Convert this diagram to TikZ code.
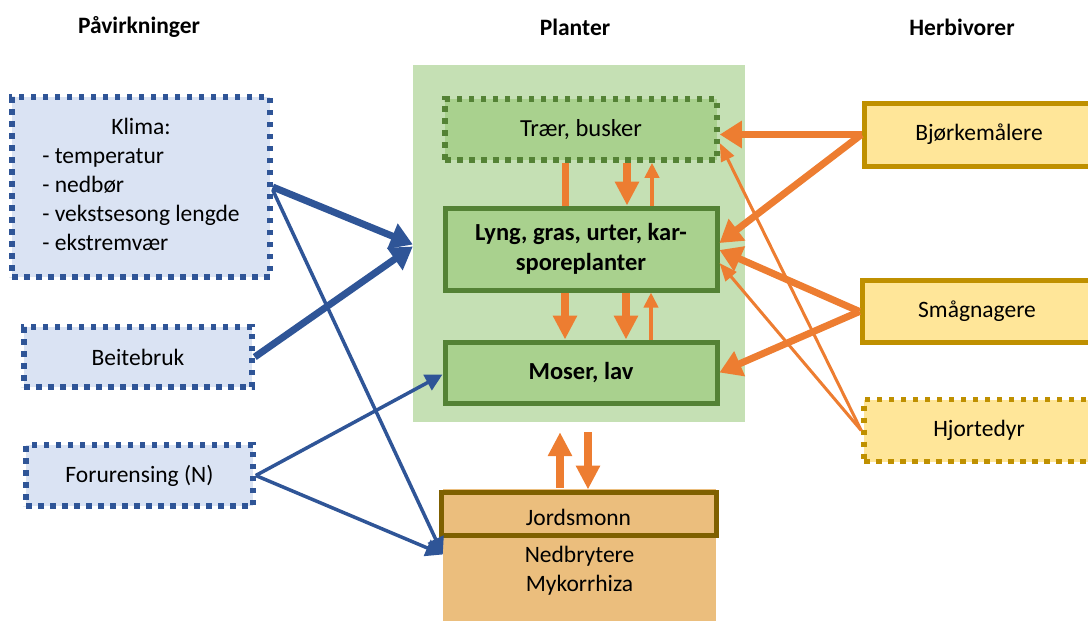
\documentclass[tikz,border=0pt]{standalone}
\usepackage{fontspec}
\setmainfont{Carlito}
\usetikzlibrary{arrows.meta,calc}

\definecolor{srcFill}{HTML}{DAE3F3}
\definecolor{srcLine}{HTML}{2F5597}
\definecolor{plantBg}{HTML}{C5E0B4}
\definecolor{plantFill}{HTML}{A9D18E}
\definecolor{plantLine}{HTML}{548235}
\definecolor{herbFill}{HTML}{FFE699}
\definecolor{herbLine}{HTML}{BF9000}
\definecolor{soilFill}{HTML}{EBBE7D}
\definecolor{soilLine}{HTML}{7F6000}
\definecolor{flow}{HTML}{ED7D31}

\tikzset{
  txt/.style={font=\fontsize{23.5}{29}\selectfont, text=black},
  head/.style={font=\bfseries\fontsize{23.5}{28}\selectfont},
  bold/.style={font=\bfseries\fontsize{24.5}{30}\selectfont},
  dots/.style={line width=5.5pt, dash pattern=on 5.5pt off 6.5pt},
  srcbox/.style={txt, draw=srcLine, fill=srcFill, dots, inner sep=0pt},
  plantbox/.style={txt, draw=plantLine, fill=plantFill, line width=5pt, inner sep=0pt},
  treebox/.style={txt, draw=plantLine, fill=plantFill, dots, inner sep=0pt},
  herbbox/.style={txt, draw=herbLine, fill=herbFill, line width=5pt, inner sep=0pt},
  herbdots/.style={txt, draw=herbLine, fill=herbFill, dots, inner sep=0pt},
  bigblue/.style={draw=srcLine, line width=7pt, -{Triangle[length=22pt,width=26pt]}},
  thinblue/.style={draw=srcLine, line width=3.5pt, -{Triangle[length=17pt,width=17pt]}},
  bigflow/.style={draw=flow, line width=7pt, -{Triangle[length=22pt,width=26pt]}},
  thinflow/.style={draw=flow, line width=3pt, -{Triangle[length=18pt,width=14pt]}},
  colflow/.style={draw=flow, line width=8pt, -{Triangle[length=24pt,width=23pt]}},
  colthin/.style={draw=flow, line width=4pt, -{Triangle[length=15pt,width=14pt]}},
}

\begin{document}
\begin{tikzpicture}[x=1pt, y=-1pt]
\useasboundingbox (0,0) rectangle (1088,621);

% column headings
\node[head] (h1) at (139,27) {Påvirkninger};
\node[head] (h2) at (575,27) {Planter};
\node[head] (h3) at (962,27) {Herbivorer};

% plant compartment
\node[fill=plantBg, minimum width=332pt, minimum height=357pt, inner sep=0pt] (bg) at (579,243.5) {};
\node[treebox, minimum width=272pt, minimum height=61pt, font=\fontsize{24.5}{29}\selectfont] (trees) at (581,129.5) {Trær, busker};
\node[plantbox, minimum width=272pt, minimum height=82pt, align=center, bold] (lyng) at (581,249) {Lyng, gras, urter, kar-\\sporeplanter};
\node[plantbox, minimum width=272pt, minimum height=61pt, bold] (moser) at (581,372.5) {Moser, lav};

% soil
\node[fill=soilFill, minimum width=273pt, minimum height=141pt, inner sep=0pt] (soil) at (579.5,559.5) {};
\node[draw=soilLine, line width=5pt, minimum width=275pt, minimum height=43pt, inner sep=0pt, txt] (jord) at (578.5,513.5) {\raisebox{-4pt}[\height][\depth]{Jordsmonn}};
\node[txt, align=center] (decomp) at (579.5,570.5) {Nedbrytere\\Mykorrhiza};

% drivers
\node[srcbox, minimum width=258pt, minimum height=180pt] (klima) at (141,187)
  {\begin{tabular}{@{}l@{}}\multicolumn{1}{@{}c@{}}{Klima:}\\- temperatur\\- nedbør\\- vekstsesong lengde\\- ekstremvær\end{tabular}};
\node[srcbox, minimum width=228pt, minimum height=60pt] (beite) at (138,357) {Beitebruk};
\node[srcbox, minimum width=227pt, minimum height=61pt] (forur) at (139.5,475.5) {Forurensing (N)};

% herbivores
\node[herbbox, minimum width=230pt, minimum height=63pt] (bjork) at (979,134.5) {Bjørkemålere};
\node[herbbox, minimum width=230pt, minimum height=62pt] (smag) at (977,311.5) {Smågnagere};
\node[herbdots, minimum width=230pt, minimum height=62pt] (hjort) at (979,430.5) {Hjortedyr};

% flows inside the plant compartment
\draw[flow, line width=7pt] ([xshift=-16pt]trees.south) -- ([xshift=-16pt]lyng.north);
\draw[colflow] ([xshift=46pt]trees.south) -- ([xshift=46pt]lyng.north);
\draw[colthin] ([xshift=71pt]lyng.north) -- ([xshift=71pt]trees.south);
\draw[colflow] ([xshift=-16pt]lyng.south) -- ([xshift=-16pt]moser.north);
\draw[colflow] ([xshift=45pt]lyng.south) -- ([xshift=45pt]moser.north);
\draw[colthin] ([xshift=70pt]moser.north) -- ([xshift=70pt]lyng.south);

% exchange with the soil
\draw[colflow, shorten <=2pt, shorten >=10pt] ([xshift=-18.5pt]jord.north) -- ([xshift=-18.5pt]jord.north |- bg.south);
\draw[colflow, shorten <=10pt] ([xshift=9.5pt]jord.north |- bg.south) -- ([xshift=9.5pt]jord.north);

% drivers acting on plants and soil
\draw[bigblue] (klima.east) -- ([yshift=-1pt]bg.west);
\draw[bigblue] (beite.east) -- ([yshift=-3pt]bg.west);
\draw[thinblue] ([yshift=-3pt]klima.east) -- ([yshift=5pt]soil.west);
\draw[thinblue] (forur.east) -- ([yshift=-2pt]moser.west);
\draw[thinblue] (forur.east) -- ([yshift=5pt]soil.west);

% grazing
\draw[bigflow] (bjork.west) -- (bjork.west -| trees.east);
\draw[bigflow] (bjork.west) -- ([yshift=6pt]lyng.east);
\draw[bigflow] (smag.west) -- ([yshift=-1pt]lyng.east);
\draw[bigflow] (smag.west) -- (moser.east);
\draw[thinflow] (hjort.west) -- ([yshift=-13.5pt]trees.east);
\draw[thinflow] (hjort.west) -- ([yshift=-14pt]lyng.east);
\end{tikzpicture}
\end{document}
